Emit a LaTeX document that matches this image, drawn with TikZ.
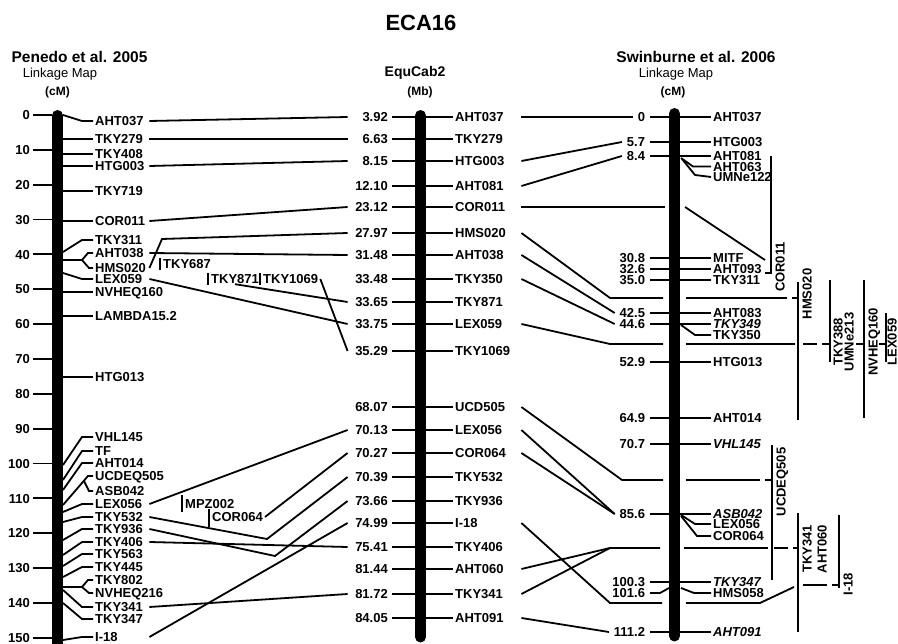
\documentclass[tikz,border=0pt]{standalone}
\usepackage{fontspec}
\setmainfont{Liberation Sans}
\begin{document}
\begin{tikzpicture}[x=1pt,y=-1pt,
  lw/.style={line width=1.8pt},
  chrbar/.style={line width=11pt,line cap=round},
  lbl/.style={font=\fontsize{13}{13}\selectfont\bfseries,inner xsep=2pt,inner ysep=0.3pt,text height=9.4pt,text depth=0pt},
  ital/.style={font=\fontsize{13}{13}\selectfont\bfseries\itshape},
  llab/.style={lbl,anchor=west,text width=52pt,align=left},
  mnum/.style={lbl,anchor=east,text width=38pt,align=right},
  mlab/.style={lbl,anchor=west,text width=64pt,align=left},
  rnum/.style={lbl,anchor=east,outer sep=3pt},
  rlab/.style={lbl,anchor=west},
  axnum/.style={lbl,anchor=east},
  vlab/.style={lbl,rotate=90},
  bmark/.style={lbl,anchor=west},
  hdr/.style={font=\fontsize{15.5}{15.5}\selectfont\bfseries,inner sep=0pt},
  subhdr/.style={font=\fontsize{13}{13}\selectfont,inner sep=0pt},
  unitlab/.style={font=\fontsize{12}{12}\selectfont\bfseries,inner sep=0pt}]
\fill[white] (0,0) rectangle (898,644);
\useasboundingbox (0,0) rectangle (898,644);

% ---------- headers ----------
\node[font=\fontsize{22}{22}\selectfont\bfseries,inner sep=0pt] (title) at (421,23) {ECA16};
\node[hdr] (hL) at (79.5,57) {Penedo et al. 2005};
\node[subhdr] (sL) at (60,74) {Linkage Map};
\node[unitlab] (uL) at (57.5,92) {(cM)};
\node[font=\fontsize{14}{14}\selectfont\bfseries,inner sep=0pt] (hM) at (415,73) {EquCab2};
\node[unitlab] (uM) at (420,92) {(Mb)};
\node[hdr] (hR) at (696,57) {Swinburne et al. 2006};
\node[subhdr] (sR) at (676,74) {Linkage Map};
\node[unitlab] (uR) at (673,92) {(cM)};

% ---------- chromosome bars ----------
\draw[chrbar] (57.5,115.5) -- (57.5,670);
\draw[chrbar] (420.5,115.5) -- (420.5,637);
\draw[chrbar] (674.5,113.5) -- (674.5,636);

% ---------- left map axis ----------
\foreach \c in {0,10,...,150}{
  \pgfmathsetmacro{\yy}{115+3.485*\c}
  \node[axnum] (ax\c) at (32,\yy) {\c};
  \draw[lw] (ax\c.east) ++(1,0) -- (52,\yy);
}

% ---------- left map markers ----------
\foreach \y/\k/\t in {139/TKY279/TKY279,154/TKY408/TKY408,166/HTG003/HTG003,191/TKY719/TKY719,221/COR011/COR011,292/NVHEQ160/NVHEQ160,316/LAMBDA/LAMBDA15.2,377/HTG013/HTG013}{
  \node[llab] (l\k) at (93,\y) {\t};
  \draw[lw] (63,\y) -- (l\k.west);
}
\foreach \y/\b/\k/\t in {121/115/AHT037/AHT037,240/252/TKY311/TKY311,279/273/LEX059/LEX059,437/465/VHL145/VHL145,451/480/TF/TF,463/490/AHT014/AHT014,504/512/LEX056/LEX056,517/522/TKY532/TKY532,529/540/TKY936/TKY936,542/555/TKY406/TKY406,554/566/TKY563/TKY563,567/577/TKY445/TKY445,607/590/TKY341/TKY341,619/603/TKY347/TKY347,637/640/I18/I-18}{
  \node[llab] (l\k) at (93,\y) {\t};
  \draw[lw] (63,\b) -- (82,\y) -- (l\k.west);
}
\node[llab] (lAHT038) at (93,253) {AHT038};
\node[llab] (lHMS020) at (93,268) {HMS020};
\draw[lw] (63,260) -- (82,260) -- (88,253) -- (lAHT038.west);
\draw[lw] (82,260) -- (89,268) -- (lHMS020.west);
\node[llab] (lUCDEQ505) at (93,476) {UCDEQ505};
\node[llab] (lASB042) at (93,491) {ASB042};
\draw[lw] (63,505) -- (88,476) -- (lUCDEQ505.west);
\draw[lw] (84,481) -- (89,491) -- (lASB042.west);
\node[llab] (lTKY802) at (93,580) {TKY802};
\node[llab] (lNVHEQ216) at (93,593) {NVHEQ216};
\draw[lw] (63,587) -- (82,587) -- (88,580) -- (lTKY802.west);
\draw[lw] (82,587) -- (89,593) -- (lNVHEQ216.west);

% ---------- placed markers between maps ----------
\node[bmark] (bTKY687) at (161,264) {TKY687};
\draw[lw] (160,258) -- (160,270);
\node[bmark] (bTKY871) at (209,279) {TKY871};
\draw[lw] (208,273) -- (208,285);
\node[bmark] (bTKY1069) at (261,279) {TKY1069};
\draw[lw] (260,273) -- (260,285);
\node[bmark] (bMPZ002) at (183,504) {MPZ002};
\draw[lw] (182,495) -- (182,512);
\node[bmark] (bCOR064) at (210,517) {COR064};
\draw[lw] (209,509) -- (209,527);

% ---------- middle map ----------
\foreach \y/\n/\k/\t in {117/3.92/AHT037/AHT037,139/6.63/TKY279/TKY279,161/8.15/HTG003/HTG003,186/12.10/AHT081/AHT081,207/23.12/COR011/COR011,233/27.97/HMS020/HMS020,255/31.48/AHT038/AHT038,279/33.48/TKY350/TKY350,302/33.65/TKY871/TKY871,324/33.75/LEX059/LEX059,351/35.29/TKY1069/TKY1069,407/68.07/UCD505/UCD505,430/70.13/LEX056/LEX056,453/70.27/COR064/COR064,477/70.39/TKY532/TKY532,501/73.66/TKY936/TKY936,523/74.99/I18/I-18,547/75.41/TKY406/TKY406,569/81.44/AHT060/AHT060,594/81.72/TKY341/TKY341,618/84.05/AHT091/AHT091}{
  \node[mnum] (n\k) at (390,\y) {\n};
  \node[mlab] (t\k) at (453,\y) {\t};
  \draw[lw] (n\k.east) ++(2,0) -- (415,\y);
  \draw[lw] (426,\y) -- (t\k.west);
}

% ---------- right map ----------
\foreach \y/\n/\k/\t/\s in {117/0/AHT037/AHT037/lbl,142/5.7/HTG003/HTG003/lbl,156/8.4/AHT081/AHT081/lbl,258/30.8/MITF/MITF/lbl,269/32.6/AHT093/AHT093/lbl,280/35.0/TKY311/TKY311/lbl,313/42.5/AHT083/AHT083/lbl,324/44.6/TKY349/TKY349/ital,362/52.9/HTG013/HTG013/lbl,418/64.9/AHT014/AHT014/lbl,444/70.7/VHL145/VHL145/ital,514/85.6/ASB042/ASB042/ital,582/100.3/TKY347/TKY347/ital,632/111.2/AHT091/AHT091/ital}{
  \node[rnum] (r\k) at (650,\y) {\n};
  \node[rlab,\s] (s\k) at (711,\y) {\t};
  \draw[lw] (r\k.east) -- (669,\y);
  \draw[lw] (680,\y) -- (s\k.west);
}
\node[rlab] (sAHT063) at (711,166.5) {AHT063};
\draw[lw] (681,158) -- (693,166.5) -- (sAHT063.west);
\node[rlab] (sUMNe122) at (711,177) {UMNe122};
\draw[lw] (682,159) -- (695,175) -- (sUMNe122.west);
\node[rlab] (sTKY350) at (711,335) {TKY350};
\draw[lw] (681,325) -- (695,335) -- (sTKY350.west);
\node[rlab] (sLEX056) at (711,524) {LEX056};
\draw[lw] (681,515) -- (695,524) -- (sLEX056.west);
\node[rlab] (sCOR064) at (711,536) {COR064};
\draw[lw] (681,516) -- (697,536) -- (sCOR064.west);
\node[rnum] (rHMS058) at (650,593) {101.6};
\node[rlab] (sHMS058) at (711,593) {HMS058};
\draw[lw] (rHMS058.east) -- (660,593) -- (669,588);
\draw[lw] (681,588) -- (694,593) -- (sHMS058.west);

% ---------- right brackets ----------
\draw[lw] (771,156) -- (771,273) -- (765,273);
\node[vlab] (vCOR011) at (780,267) {COR011};
\draw[lw] (798,282) -- (798,420);
\node[vlab] (vHMS020) at (807,294) {HMS020};
\draw[lw] (830,280) -- (830,362);
\node[vlab] (vTKY388) at (838,342) {TKY388};
\node[vlab] (vUMNe213) at (849,342) {UMNe213};
\draw[lw] (864,280) -- (864,418);
\node[vlab] (vNVHEQ160) at (873,342) {NVHEQ160};
\draw[lw] (886,313) -- (886,362);
\node[vlab] (vLEX059) at (892,342) {LEX059};
\draw[lw] (772,445) -- (772,580);
\node[vlab] (vUCDEQ505) at (781,482) {UCDEQ505};
\draw[lw] (798,513) -- (798,632);
\node[vlab] (vTKY341) at (807,549) {TKY341};
\node[vlab] (vAHT060) at (822,549) {AHT060};
\draw[lw] (839,515) -- (839,588);
\node[vlab] (vI18) at (848,584) {I-18};

% ---------- left -> middle connectors ----------
\draw[lw] (lAHT037.east) -- (nAHT037.west);
\draw[lw] (lTKY279.east) -- (nTKY279.west);
\draw[lw] (lHTG003.east) -- (nHTG003.west);
\draw[lw] (lCOR011.east) -- (nCOR011.west);
\draw[lw] (lHMS020.east) -- (162,239) -- (nHMS020.west);
\draw[lw] (lAHT038.east) -- (nAHT038.west);
\draw[lw] (lLEX059.east) -- (nLEX059.west);
\draw[lw] (bTKY871.south) -- (nTKY871.west);
\draw[lw] (bTKY1069.east) -- (nTKY1069.west);
\draw[lw] (lLEX056.east) -- (nLEX056.west);
\draw[lw] (bCOR064.east) -- (nCOR064.west);
\draw[lw] (lTKY532.east) -- (267,539) -- (nTKY532.west);
\draw[lw] (lTKY936.east) -- (275,556) -- (nTKY936.west);
\draw[lw] (lTKY406.east) -- (nTKY406.west);
\draw[lw] (lI18.east) -- (nI18.west);
\draw[lw] (lTKY341.east) -- (nTKY341.west);

% ---------- middle -> right connectors ----------
\draw[lw] (tAHT037.east) -- (rAHT037.west);
\draw[lw] (tHTG003.east) -- (rHTG003.west);
\draw[lw] (tAHT081.east) -- (rAHT081.west);
\draw[lw] (tCOR011.east) -- (665,207);
\draw[lw] (685,207) -- (765,260);
\draw[lw] (tHMS020.east) -- (610,298) -- (663,298);
\draw[lw] (686,298) -- (787,298);
\draw[lw] (792,298) -- (798,298);
\draw[lw] (tAHT038.east) -- (rAHT083.west);
\draw[lw] (tTKY350.east) -- (rTKY349.west);
\draw[lw] (tLEX059.east) -- (610,344) -- (663,344);
\draw[lw] (686,344) -- (795,344);
\draw[lw] (803,344) -- (817,344);
\draw[lw] (822,344) -- (830,344);
\draw[lw] (856,344) -- (864,344);
\draw[lw] (879,344) -- (886,344);
\draw[lw] (tUCD505.east) -- (622,480) -- (663,480);
\draw[lw] (686,480) -- (760,480);
\draw[lw] (765,480) -- (772,480);
\draw[lw] (tLEX056.east) -- (rASB042.west);
\draw[lw] (tCOR064.east) -- (rASB042.west);
\draw[lw] (tAHT060.east) -- (610,548) -- (660,548);
\draw[lw] (tTKY341.east) -- (610,548);
\draw[lw] (684,548) -- (768,548);
\draw[lw] (774,548) -- (788,548);
\draw[lw] (793,548) -- (798,548);
\draw[lw] (tI18.east) -- (610,603) -- (662,603);
\draw[lw] (686,603) -- (760,603) -- (794,587);
\draw[lw] (803,585) -- (827,585);
\draw[lw] (832,585) -- (839,585);
\draw[lw] (tAHT091.east) -- (rAHT091.west);
\end{tikzpicture}
\end{document}
